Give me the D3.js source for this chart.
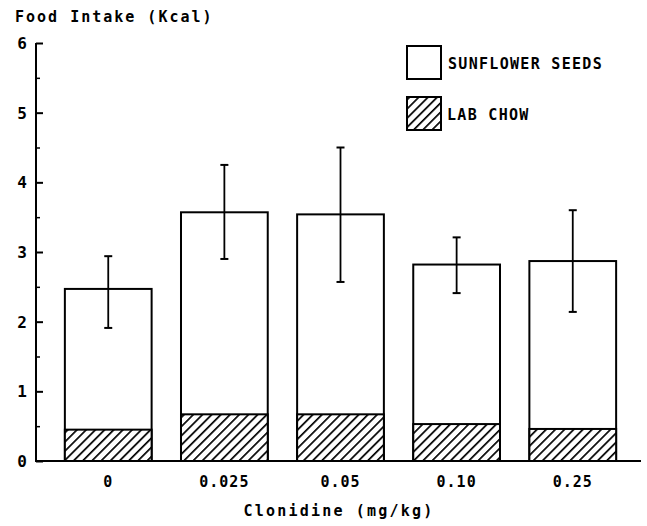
<!DOCTYPE html>
<html>
<head>
<meta charset="utf-8">
<script src="https://cdn.jsdelivr.net/npm/d3@7"></script>
<style>
  body { margin: 0; background: #fff; }
  text { font-family: "DejaVu Sans Mono", monospace; fill: #000; font-weight: bold; }
</style>
</head>
<body>
<div></div>
<script>
// datos
var doses = ['0', '0.025', '0.05', '0.10', '0.25']
var totalIntake = [2.47, 3.57, 3.54, 2.82, 2.87]
var labChow = [0.45, 0.67, 0.67, 0.53, 0.46]
var errUpper = [2.94, 4.25, 4.50, 3.21, 3.60]
var errLower = [1.91, 2.90, 2.57, 2.41, 2.14]
var yTicks = [0, 1, 2, 3, 4, 5, 6]
var yMinorTicks = [0.5, 1.5, 2.5, 3.5, 4.5, 5.5]

var w = 647
var h = 526

var svg = d3.select('div')
    .append('svg')
    .attr('width', w)
    .attr('height', h)

// patron rayado para lab chow
var pattern = svg.append('defs').append('pattern')
    .attr('id', 'hatch')
    .attr('patternUnits', 'userSpaceOnUse')
    .attr('width', 6.5)
    .attr('height', 6.5)
    .attr('patternTransform', 'rotate(45)')
pattern.append('rect').attr('width', 6.5).attr('height', 6.5).attr('fill', '#fff')
pattern.append('line')
    .attr('x1', 0).attr('y1', 0).attr('x2', 0).attr('y2', 6.5)
    .attr('stroke', '#000').attr('stroke-width', 3.4)

// escalas
var y = d3.scaleLinear().domain([0, 6]).range([461, 43])
var x = d3.scaleBand()
    .domain(doses)
    .range([37, 644])
    .paddingInner(0.253)
    .paddingOuter(0.24)

var data = doses.map((d, i) => ({
    dose: d, total: totalIntake[i], chow: labChow[i], hi: errUpper[i], lo: errLower[i]
}))

// eje y
var yAxis = d3.axisRight(y).tickValues(yTicks).tickSize(7).tickFormat('')
var gy = svg.append('g').attr('transform', 'translate(36,0)').call(yAxis)
gy.select('.domain').attr('stroke-width', 2).attr('d', `M0,${y(0)}V${y(6)}`)
gy.selectAll('.tick line').attr('stroke-width', 2)
svg.append('g').attr('transform', 'translate(36,0)')
    .call(d3.axisRight(y).tickValues(yMinorTicks).tickSize(4).tickFormat(''))
    .call(g => g.select('.domain').remove())
    .selectAll('.tick line').attr('stroke-width', 1.5)

svg.selectAll('.ylab')
    .data(yTicks)
    .enter()
    .append('text')
    .attr('class', 'ylab')
    .attr('x', 27)
    .attr('y', (d) => y(d) + 6)
    .attr('text-anchor', 'end')
    .style('font-size', '16px')
    .text((d) => d)

// linea base
svg.append('line')
    .attr('x1', 35).attr('x2', 641)
    .attr('y1', y(0)).attr('y2', y(0))
    .attr('stroke', '#000').attr('stroke-width', 2)

// barras totales (semillas de girasol)
svg.selectAll('.total')
    .data(data)
    .enter()
    .append('rect')
    .attr('class', 'total')
    .attr('x', (d) => x(d.dose))
    .attr('width', x.bandwidth())
    .attr('y', (d) => y(d.total))
    .attr('height', (d) => y(0) - y(d.total))
    .attr('fill', '#fff')
    .attr('stroke', '#000')
    .attr('stroke-width', 2)

// parte de lab chow
svg.selectAll('.chow')
    .data(data)
    .enter()
    .append('rect')
    .attr('class', 'chow')
    .attr('x', (d) => x(d.dose))
    .attr('width', x.bandwidth())
    .attr('y', (d) => y(d.chow))
    .attr('height', (d) => y(0) - y(d.chow))
    .attr('fill', 'url(#hatch)')
    .attr('stroke', '#000')
    .attr('stroke-width', 2)

// barras de error
var cx = (d) => x(d.dose) + x.bandwidth() / 2
var err = svg.selectAll('.err').data(data).enter().append('g').attr('class', 'err')
err.append('line')
    .attr('x1', cx).attr('x2', cx)
    .attr('y1', (d) => y(d.hi)).attr('y2', (d) => y(d.lo))
    .attr('stroke', '#000').attr('stroke-width', 1.8)
err.append('line')
    .attr('x1', (d) => cx(d) - 4).attr('x2', (d) => cx(d) + 4)
    .attr('y1', (d) => y(d.hi)).attr('y2', (d) => y(d.hi))
    .attr('stroke', '#000').attr('stroke-width', 2)
err.append('line')
    .attr('x1', (d) => cx(d) - 4).attr('x2', (d) => cx(d) + 4)
    .attr('y1', (d) => y(d.lo)).attr('y2', (d) => y(d.lo))
    .attr('stroke', '#000').attr('stroke-width', 2)

// etiquetas eje x
svg.selectAll('.xlab')
    .data(data)
    .enter()
    .append('text')
    .attr('class', 'xlab')
    .attr('x', cx)
    .attr('y', 487)
    .attr('text-anchor', 'middle')
    .style('font-size', '15px')
    .style('letter-spacing', '1px')
    .text((d) => d.dose)

// titulos
svg.append('text')
    .attr('x', 15).attr('y', 22)
    .style('font-size', '15px')
    .style('letter-spacing', '2px')
    .text('Food Intake (Kcal)')

svg.append('text')
    .attr('x', 339).attr('y', 516)
    .attr('text-anchor', 'middle')
    .style('font-size', '15px')
    .style('letter-spacing', '2.2px')
    .text('Clonidine (mg/kg)')

// leyenda
var legend = svg.append('g')
legend.append('rect')
    .attr('x', 407).attr('y', 46).attr('width', 34).attr('height', 33)
    .attr('fill', '#fff').attr('stroke', '#000').attr('stroke-width', 2)
legend.append('rect')
    .attr('x', 407).attr('y', 97).attr('width', 34).attr('height', 33)
    .attr('fill', 'url(#hatch)').attr('stroke', '#000').attr('stroke-width', 2)
legend.append('text')
    .attr('x', 448).attr('y', 69)
    .style('font-size', '15px')
    .style('letter-spacing', '1.3px')
    .text('SUNFLOWER SEEDS')
legend.append('text')
    .attr('x', 447).attr('y', 120)
    .style('font-size', '15px')
    .style('letter-spacing', '1.3px')
    .text('LAB CHOW')
</script>
</body>
</html>
